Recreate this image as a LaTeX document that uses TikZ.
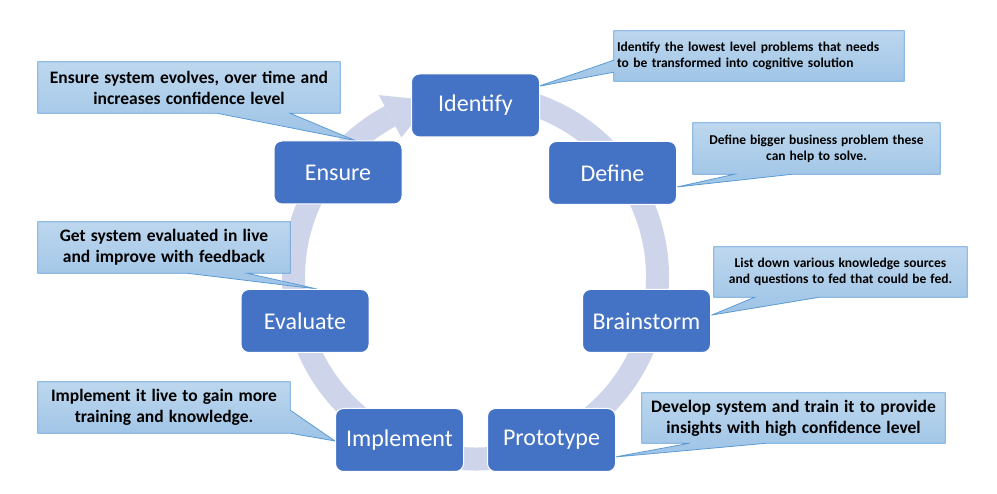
\documentclass[tikz,border=0pt]{standalone}
\usepackage{fontspec}
\setmainfont{Carlito}
\usetikzlibrary{calc,backgrounds}
\definecolor{nodeblue}{HTML}{4472C4}
\definecolor{ringc}{RGB}{206,212,234}
\definecolor{cbord}{HTML}{5B9BD5}
\definecolor{ctop}{HTML}{BDD7EE}
\definecolor{cbot}{HTML}{9DC3E6}
\newcommand\mywidesp{\spaceskip=0.3em plus 0.1em minus 0.05em\relax}
\begin{document}
\begin{tikzpicture}[x=1pt,y=1pt,
  stage/.style={rectangle, rounded corners=8pt, fill=nodeblue, draw=white, line width=1pt,
    minimum width=128pt, minimum height=63pt, text=white, inner sep=0pt,
    font=\fontsize{24}{28}\selectfont},
  ctext/.style={inner sep=0pt, font=\bfseries\fontsize{17.5}{21}\selectfont\mywidesp, align=center},
  csmall/.style={inner sep=0pt, font=\bfseries\fontsize{13.5}{16}\selectfont\mywidesp, align=center},
  cshape/.style={draw=cbord, line width=0.8pt, top color=ctop, bottom color=cbot, line join=miter}]
\useasboundingbox (0,0) rectangle (997,494);
\coordinate (rc) at (475.5,217);

% stages
\node[stage] (identify)   at (475.5,388.5) {Identify};
\node[stage] (define)     at (612.5,321)   {Define};
\node[stage] (brainstorm) at (646.5,173)   {Brainstorm};
\node[stage] (prototype)  at (551.5,54)    {Prototype};
\node[stage] (implement)  at (399.5,54)    {Implement};
\node[stage] (evaluate)   at (305,173)     {Evaluate};
\node[stage] (ensure)     at (338,321.5)   {Ensure};

% callout texts
\node[ctext, minimum width=302pt, minimum height=51pt] (c1) at (189,406.5)
  {Ensure system evolves, over time and\\increases confidence level};
\node[csmall, align=left, text width=284pt, minimum width=290pt, minimum height=50pt] (c2) at (759,438)
  {Identify the lowest level problems that needs\\to be transformed into cognitive solution};
\node[csmall, minimum width=247pt, minimum height=51pt] (c3) at (816.5,345.5)
  {Define bigger business problem these\\can help to solve.};
\node[csmall, minimum width=253pt, minimum height=50pt] (c4) at (840.5,222)
  {List down various knowledge sources\\and questions to fed that could be fed.};
\node[ctext, minimum width=252pt, minimum height=51pt] (c5) at (164,246.5)
  {Get system evaluated in live\\and improve with feedback};
\node[ctext, minimum width=252pt, minimum height=51pt] (c6) at (164,86.5)
  {Implement it live to gain more\\training and knowledge.};
\node[ctext, minimum width=303pt, minimum height=50pt] (c7) at (793.5,76)
  {Develop system and train it to provide\\insights with high confidence level};

\begin{scope}[on background layer]
  % circular arrow
  \draw[ringc, line width=23pt] ($(rc)+(80:182)$) arc[start angle=80, end angle=-242, radius=182];
  \fill[ringc] ($(rc)+(118:158)$) -- ($(rc)+(104:182)$) -- ($(rc)+(118:206)$) -- cycle;

  % callout shapes
  \path[cshape] (c1.north west) -- (c1.north east) -- (c1.south east)
    -- ($(c1.south west)+(252,0)$) -- ($(ensure.north)+(17,0)$)
    -- ($(c1.south west)+(179,0)$) -- (c1.south west) -- cycle;
  \path[cshape] (c2.north west) -- (c2.north east) -- (c2.south east) -- (c2.south west)
    -- ($(c2.south west)+(0,9)$) -- ($(identify.north east)+(-2,-13)$)
    -- ($(c2.south west)+(0,21)$) -- cycle;
  \path[cshape] (c3.north west) -- (c3.north east) -- (c3.south east)
    -- ($(c3.south west)+(100,0)$) -- ($(define.east)+(0,-14)$)
    -- ($(c3.south west)+(42,0)$) -- (c3.south west) -- cycle;
  \path[cshape] (c4.north west) -- (c4.north east) -- (c4.south east)
    -- ($(c4.south west)+(106,0)$) -- ($(brainstorm.east)+(1,6)$)
    -- ($(c4.south west)+(41,0)$) -- (c4.south west) -- cycle;
  \path[cshape] (c5.north west) -- (c5.north east) -- (c5.south east)
    -- ($(c5.south west)+(209,0)$) -- ($(evaluate.north)+(12,0)$)
    -- ($(c5.south west)+(149,0)$) -- (c5.south west) -- cycle;
  \path[cshape] (c6.north west) -- (c6.north east) -- ($(c6.south east)+(0,23)$)
    -- ($(implement.west)+(0,-1)$) -- (c6.south east) -- (c6.south west) -- cycle;
  \path[cshape] (c7.north west) -- (c7.north east) -- (c7.south east)
    -- ($(c7.south west)+(125,0)$) -- ($(prototype.east)+(-1,-17)$)
    -- ($(c7.south west)+(48,0)$) -- (c7.south west) -- cycle;
\end{scope}
\end{tikzpicture}
\end{document}
